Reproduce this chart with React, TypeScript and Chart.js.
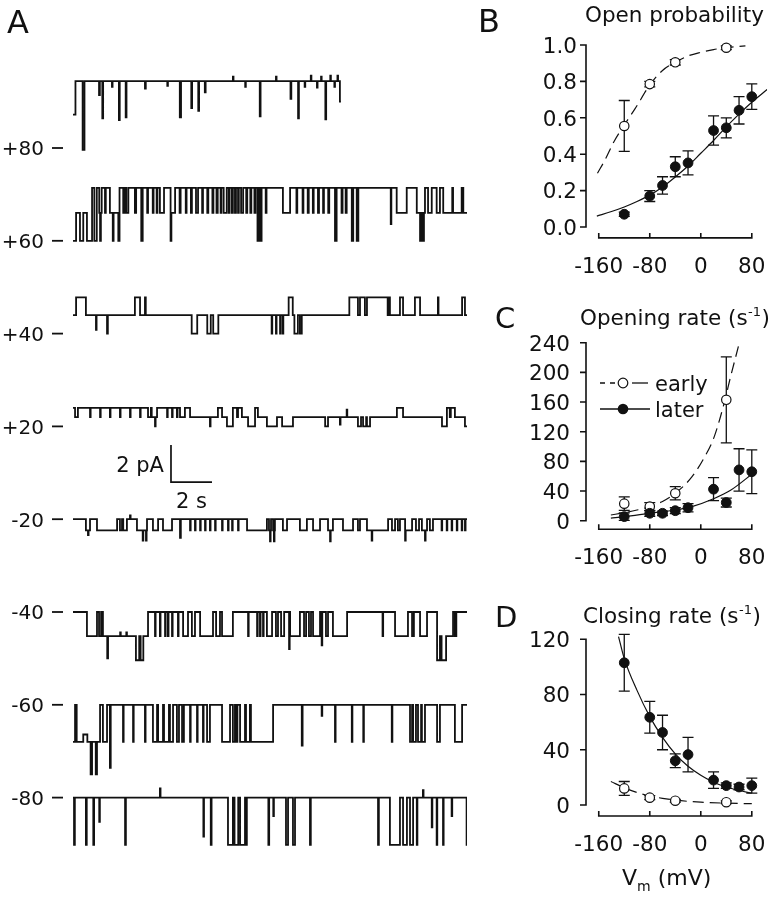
import React, { useEffect, useRef } from "react";
import { Chart, registerables } from "chart.js";

Chart.register(...registerables);

const FONT = '"DejaVu Sans", "Liberation Sans", Arial, sans-serif';
const INK = "#111111";

/* ---------------- Panel A : single-channel records ----------------
   Each record is a flat list of [time (s), current above closed level (pA)],
   the level holds until the next time. */
const voltageLabels = ["+80", "+60", "+40", "+20", "-20", "-40", "-60", "-80"];

const recPlus80 = [
  0, 1.8, 0.12, 3.6, 0.47, -0.1, 0.56, 3.6, 1.27, 2.85, 1.31, 3.6, 1.43, 1.6, 1.47, 3.6,
  1.9, 3.3, 1.93, 3.6, 2.24, 1.5, 2.28, 3.6, 2.57, 1.65, 2.61, 3.6, 3.51, 3.2, 3.55, 3.6,
  4.6, 3.35, 4.63, 3.6, 5.21, 1.65, 5.27, 3.6, 5.77, 2.15, 5.81, 3.6, 6.11, 2.0, 6.15, 3.6,
  6.43, 3.0, 6.47, 3.6, 7.8, 3.85, 7.83, 3.6, 8.4, 3.3, 8.43, 3.6, 9.11, 1.7, 9.15, 3.6,
  9.9, 3.85, 9.93, 3.6, 10.61, 2.65, 10.65, 3.6, 10.98, 1.6, 11.02, 3.6, 11.3, 3.3, 11.33, 3.6,
  11.6, 3.9, 11.63, 3.6, 11.9, 3.25, 11.93, 3.6, 12.1, 3.85, 12.13, 3.6, 12.31, 1.55, 12.35, 3.6,
  12.55, 3.9, 12.58, 3.6, 12.75, 3.3, 12.78, 3.6, 12.9, 3.9, 12.93, 3.6, 13.02, 2.5, 13.07, 2.5,
];
const recPlus60 = [
  0, 0, 0.15, 1.5, 0.34, 0, 0.5, 1.5, 0.68, 0, 0.93, 2.85, 1.04, 0, 1.16, 2.85, 1.28, 1.5,
  1.32, 0, 1.36, 1.5, 1.4, 2.85, 1.56, 1.5, 1.6, 2.85, 1.8, 1.5, 1.94, 0, 1.98, 1.5,
  2.21, 0, 2.27, 2.85, 2.45, 1.5, 2.52, 2.85, 2.6, 1.5, 2.7, 2.85, 3.02, 1.5, 3.08, 2.85,
  3.33, 0, 3.4, 2.85, 3.62, 1.5, 3.66, 2.85, 3.89, 1.5, 3.93, 2.85, 4.08, 1.5, 4.12, 2.85,
  4.24, 1.5, 4.44, 2.85, 4.76, 0, 4.8, 1.5, 4.98, 2.85, 5.2, 1.5, 5.25, 2.85, 5.5, 1.5, 5.54, 2.85,
  5.75, 1.5, 5.8, 2.85, 6.0, 1.5, 6.1, 2.85, 6.3, 1.5, 6.34, 2.85, 6.55, 1.5, 6.6, 2.85,
  6.8, 1.5, 6.85, 2.85, 7.0, 1.5, 7.06, 2.85, 7.2, 1.5, 7.24, 2.85, 7.35, 1.5, 7.5, 2.85,
  7.6, 1.5, 7.64, 2.85, 7.75, 1.5, 7.8, 2.85, 7.9, 1.5, 7.95, 2.85, 8.05, 1.5, 8.09, 2.85,
  8.2, 1.5, 8.3, 2.85, 8.45, 1.5, 8.5, 2.85, 8.65, 1.5, 8.7, 2.85, 8.85, 1.5, 8.9, 2.85,
  9.0, 0, 9.05, 2.85, 9.13, 0, 9.2, 2.85, 9.4, 1.5, 9.44, 2.85, 10.24, 1.5, 10.59, 2.85,
  10.9, 1.5, 10.94, 2.85, 11.2, 1.5, 11.24, 2.85, 11.45, 1.5, 11.5, 2.85, 11.7, 1.5, 11.74, 2.85,
  11.95, 1.5, 12.0, 2.85, 12.2, 1.5, 12.24, 2.85, 12.45, 1.5, 12.5, 2.85, 12.78, 0, 12.86, 2.85,
  13.1, 1.5, 13.15, 2.85, 13.3, 1.5, 13.35, 2.85, 13.6, 0, 13.67, 2.85, 13.84, 0, 13.92, 2.85,
  15.5, 0.9, 15.53, 2.85, 15.79, 1.5, 16.28, 2.85, 16.77, 1.5, 16.93, 0, 16.98, 1.5, 17.04, 0,
  17.12, 1.5, 17.17, 2.85, 17.32, 1.5, 17.5, 2.85, 17.74, 1.5, 17.9, 2.85, 18.06, 1.5,
  18.5, 2.85, 18.54, 1.5, 18.96, 2.85, 19.04, 1.5, 19.22, 1.5,
];
const recPlus40 = [
  0, 1.0, 0.15, 1.95, 0.63, 1.0, 1.12, 0.2, 1.15, 1.0, 1.66, 0, 1.7, 1.0, 3.02, 1.95, 3.27, 1.0,
  3.51, 1.95, 3.55, 1.0, 5.79, 0, 6.06, 1.0, 6.55, 0, 6.72, 1.0, 6.84, 0, 7.09, 1.0,
  9.69, 0, 9.72, 1.0, 9.9, 0, 9.93, 1.0, 10.1, 0, 10.13, 1.0, 10.23, 0, 10.26, 1.0,
  10.52, 1.95, 10.72, 1.0, 10.8, 0, 10.97, 1.0, 11.07, 0, 11.16, 1.0, 13.48, 1.95,
  13.9, 1.0, 14.0, 1.95, 14.24, 1.0, 14.34, 1.95, 15.35, 1.0, 15.4, 1.95, 15.46, 1.0,
  15.95, 1.95, 16.1, 1.0, 16.68, 1.95, 16.93, 1.0, 17.8, 1.95, 17.83, 1.0, 18.98, 1.95,
  19.12, 1.0, 19.22, 1.0,
];
const recPlus20 = [
  0, 1.0, 0.1, 0.5, 0.24, 1.0, 0.83, 0.5, 0.86, 1.0, 1.32, 0.5, 1.35, 1.0, 1.8, 0.5, 1.83, 1.0,
  2.29, 0.5, 2.32, 1.0, 2.78, 0.5, 2.81, 1.0, 3.27, 0.5, 3.3, 1.0, 3.66, 0.5, 3.8, 1.0, 3.84, 0.5,
  4.0, 0, 4.03, 0.5, 4.1, 1.0, 4.59, 0.5, 4.62, 1.0, 4.83, 0.5, 4.86, 1.0, 5.07, 0.5, 5.1, 1.0,
  5.22, 0.5, 5.46, 1.0, 5.71, 0.5, 6.68, 0, 6.71, 0.5, 7.07, 1.0, 7.27, 0.5, 7.51, 0, 7.8, 1.0,
  8.0, 0.5, 8.05, 1.0, 8.24, 0.5, 8.54, 0, 8.88, 1.0, 9.02, 0.5, 9.46, 0, 9.95, 0.5, 10.2, 0,
  10.73, 0.5, 12.3, 0, 12.44, 0.5, 13.02, 0.1, 13.05, 0.5, 13.35, 0.9, 13.38, 0.5,
  13.9, 0, 14.05, 0.5, 14.15, 0, 14.3, 0.5, 14.34, 0, 14.49, 0.5, 15.8, 1.0, 16.1, 0.5,
  18.0, 0, 18.24, 1.0, 18.38, 0.5, 18.43, 1.0, 18.63, 0.5, 19.12, 0, 19.22, 0,
];
const recMinus20 = [
  0, 0, 0.63, -0.6, 0.73, -0.85, 0.76, -0.6, 0.83, 0, 1.17, -0.6, 2.15, 0, 2.29, -0.6, 2.39, 0,
  2.45, -0.6, 2.63, 0, 2.78, 0.2, 2.81, 0, 3.12, -0.6, 3.4, -1.15, 3.43, -0.6, 3.56, -1.15,
  3.59, -0.6, 3.61, 0, 3.9, -0.6, 4.15, 0, 4.39, -0.6, 4.83, 0, 5.22, -1.0, 5.26, 0,
  5.71, -0.6, 5.74, 0, 5.95, -0.6, 5.98, 0, 6.2, -0.6, 6.23, 0, 6.44, -0.6, 6.47, 0,
  6.68, -0.6, 6.71, 0, 6.93, -0.6, 6.96, 0, 7.27, -0.6, 7.3, 0, 7.56, -0.6, 7.59, 0,
  7.76, -0.6, 7.79, 0, 8.05, -0.6, 8.08, 0, 8.49, -0.6, 9.46, 0, 9.56, -0.6, 9.61, -1.2,
  9.64, -0.6, 9.66, 0, 9.76, -0.6, 9.8, -1.2, 9.83, -0.6, 9.85, 0, 10.24, -0.6, 10.44, 0,
  11.07, -0.6, 11.41, 0, 11.71, -0.6, 12.05, 0, 12.44, -0.6, 12.54, -1.2, 12.57, -0.6,
  12.68, 0, 13.17, -0.6, 13.66, 0, 13.9, -0.6, 14.0, 0, 14.34, -0.6, 14.57, -1.15, 14.6, -0.6,
  15.37, 0, 15.56, -0.6, 15.71, 0, 15.85, -0.6, 15.95, 0, 16.2, -1.15, 16.23, -0.6, 16.54, 0,
  16.73, -0.6, 16.88, 0, 17.02, -0.6, 17.17, -1.15, 17.2, -0.6, 17.27, 0, 17.41, -0.6, 17.56, 0,
  17.98, -0.6, 18.01, 0, 18.23, -0.6, 18.26, 0, 18.47, -0.6, 18.5, 0, 18.72, -0.6, 18.75, 0,
  18.96, -0.6, 18.99, 0, 19.12, -0.6, 19.15, 0, 19.22, 0,
];
const recMinus40 = [
  0, 0, 0.68, -1.3, 1.17, 0, 1.27, -1.3, 1.37, 0, 1.46, -1.3, 1.67, -2.5, 1.71, -1.3,
  2.3, -1.1, 2.33, -1.3, 2.6, -1.1, 2.63, -1.3, 3.07, -2.6, 3.23, -1.3, 3.3, -2.6, 3.43, -1.3,
  3.66, 0, 4.0, -1.3, 4.03, 0, 4.24, -1.3, 4.27, 0, 4.49, -1.3, 4.52, 0, 4.63, -1.3, 4.66, 0,
  4.83, -1.3, 4.86, 0, 5.12, -1.3, 5.15, 0, 5.37, -1.3, 5.61, 0, 5.8, -1.3, 5.95, 0,
  6.2, -1.3, 6.83, 0, 6.98, -1.3, 7.17, 0, 7.27, -1.3, 7.8, 0, 8.54, -1.3, 8.57, 0,
  8.98, -1.3, 9.01, 0, 9.12, -1.3, 9.15, 0, 9.27, -1.3, 9.3, 0, 9.46, -1.3, 9.71, 0,
  9.9, -1.3, 10.0, 0, 10.15, -1.3, 10.3, 0, 10.54, -2.0, 10.57, 0, 10.59, -1.3, 11.07, 0,
  11.27, -1.3, 11.37, 0, 11.51, -1.3, 11.61, 0, 11.71, -1.3, 12.05, 0, 12.13, -1.8, 12.16, 0,
  12.34, -1.3, 12.44, 0, 12.68, -1.3, 13.37, 0, 15.1, -1.3, 15.13, 0, 15.71, -1.3, 16.34, 0,
  16.54, -1.3, 16.63, 0, 16.93, -1.3, 17.27, 0, 17.76, -2.6, 17.9, -1.3, 17.98, -2.6,
  18.2, -1.3, 18.54, 0, 18.63, -1.3, 18.7, 0, 19.22, 0,
];
const recMinus60 = [
  0, -2.0, 0.1, 0, 0.18, -2.0, 0.5, -1.6, 0.7, -2.0, 0.86, -3.75, 0.93, -2.0, 1.11, -3.75,
  1.17, -2.0, 1.32, 0, 1.46, -2.0, 1.66, 0, 1.8, -3.4, 1.84, 0, 2.44, -2.0, 2.47, 0,
  2.93, -2.0, 2.96, 0, 3.51, -2.0, 3.54, 0, 3.9, -2.0, 4.1, 0, 4.15, -2.0, 4.39, 0, 4.44, -2.0,
  4.68, 0, 4.73, -2.0, 4.88, 0, 5.07, -2.0, 5.17, 0, 5.32, -2.0, 5.41, 0, 5.71, -2.0, 5.74, 0,
  6.05, -2.0, 6.08, 0, 6.34, -2.0, 6.37, 0, 6.54, -2.0, 6.68, 0, 7.27, -2.0, 7.66, 0,
  7.8, -2.0, 7.9, 0, 7.98, -2.0, 8.02, 0, 8.15, -2.0, 8.39, 0, 8.44, -2.0, 8.63, 0, 8.68, -2.0,
  9.76, 0, 11.16, -2.2, 11.2, 0, 12.13, -0.6, 12.16, 0, 12.78, -2.0, 12.81, 0, 13.6, -2.0,
  13.63, 0, 14.16, -2.0, 14.19, 0, 15.55, -2.0, 15.58, 0, 16.44, -2.0, 16.54, 0, 16.59, -2.0,
  16.73, 0, 16.83, -2.0, 16.98, 0, 17.02, -2.0, 17.17, 0, 17.76, -2.0, 17.9, 0, 18.63, -2.0,
  18.98, 0, 19.22, 0,
];
const recMinus80 = [
  0, 0, 0.05, -2.55, 0.09, 0, 0.63, -2.55, 0.67, 0, 0.99, -2.55, 1.03, 0, 1.28, -1.3, 1.31, 0,
  2.54, -2.55, 2.58, 0, 4.24, 0.5, 4.27, 0, 6.36, -2.1, 6.39, 0, 6.72, -2.55, 6.76, 0,
  7.56, -2.55, 7.8, 0, 7.88, -2.55, 8.06, 0, 8.15, -2.55, 8.39, 0, 8.44, -2.55, 8.48, 0,
  9.53, -2.55, 9.57, 0, 9.77, -1.0, 9.8, 0, 10.39, -2.55, 10.49, 0, 10.73, -2.55, 10.83, 0,
  11.56, -2.55, 11.6, 0, 14.88, -2.55, 14.92, 0, 15.46, -2.55, 15.95, 0, 16.1, -2.55, 16.29, 0,
  16.44, -2.55, 16.59, 0, 16.77, -2.55, 16.8, 0, 17.07, 0.4, 17.1, 0, 17.5, -1.6, 17.53, 0,
  17.74, -2.55, 17.77, 0, 18.05, -2.55, 18.08, 0, 18.47, -1.0, 18.5, 0, 19.2, -2.55, 19.22, -2.55,
];
const records = [recPlus80, recPlus60, recPlus40, recPlus20, recMinus20, recMinus40, recMinus60, recMinus80];
const scaleBarCurrent = 2; // pA
const scaleBarTime = 2; // s

/* ---------------- Panels B-D : voltage dependence ---------------- */
const xTicksMv = [-160, -80, 0, 80];
const vEarly = [-120, -80, -40, 40];
const vLater = [-120, -80, -60, -40, -20, 20, 40, 60, 80];

// B: open probability
const poTicks = [0, 0.2, 0.4, 0.6, 0.8, 1.0];
const poEarly = [0.555, 0.785, 0.905, 0.985];
const poEarlySem = [0.14, 0.015, 0.015, 0.01];
const poLater = [0.07, 0.17, 0.228, 0.331, 0.352, 0.53, 0.545, 0.641, 0.716];
const poLaterSem = [0.012, 0.03, 0.048, 0.055, 0.066, 0.08, 0.055, 0.075, 0.07];
const poEarlyFitV = [-162, -150, -136, -120, -103, -80, -60, -40, -20, 0, 20, 40, 70];
const poEarlyFit = [0.295, 0.37, 0.47, 0.56, 0.65, 0.78, 0.86, 0.905, 0.94, 0.96, 0.975, 0.985, 0.995];
const poLaterFitV = [-163, -140, -120, -100, -80, -60, -40, -20, 0, 20, 40, 60, 80, 104];
const poLaterFit = [0.06, 0.085, 0.11, 0.14, 0.175, 0.22, 0.275, 0.335, 0.405, 0.475, 0.55, 0.62, 0.685, 0.755];

// C: opening rate (s^-1)
const koTicks = [0, 40, 80, 120, 160, 200, 240];
const koEarly = [23, 19, 37, 163];
const koEarlySem = [9, 5.5, 9, 58];
const koLater = [5.5, 10, 10, 13.5, 17.5, 42.5, 24.5, 68.5, 66];
const koLaterSem = [5, 4, 3, 4, 5.5, 15.5, 6, 28.5, 29.5];
const koEarlyFitV = [-141, -120, -100, -80, -60, -40, -14, 6, 21, 36.5, 46.7, 59];
const koEarlyFit = [7.7, 10.8, 14.4, 19, 26, 37, 59, 86, 113, 158, 194, 235];
const koLaterFitV = [-141, -120, -80, -40, -14, 21, 46.7, 82];
const koLaterFit = [3.5, 5.4, 10, 14.4, 19, 30, 41, 64];

// D: closing rate (s^-1)
const kcTicks = [0, 40, 80, 120];
const kcEarly = [12, 5.3, 3.1, 2];
const kcEarlySem = [5, 1.5, 1, 1];
const kcLater = [103, 63.5, 52.5, 32, 36.5, 18, 14, 13, 14];
const kcLaterSem = [20.5, 11.5, 12.5, 5, 12.5, 6, 2, 2, 5.5];
const kcEarlyFitV = [-141, -120, -100, -80, -60, -40, -20, 0, 40, 80];
const kcEarlyFit = [17, 12.5, 9, 6.5, 4.8, 3.5, 2.6, 2, 1.3, 0.9];
const kcLaterFitV = [-129, -120, -100, -80, -60, -40, -20, 0, 20, 40, 60, 80];
const kcLaterFit = [122, 106, 83, 64, 49, 37, 28, 21.5, 16.5, 13, 10.5, 8.5];

/* ---------------- helpers ---------------- */
const pts = (xs: number[], ys: number[]) => xs.map((x, i) => ({ x, y: ys[i] }));
const stepPts = (flat: number[], offset: number) => {
  const out: { x: number; y: number }[] = [];
  for (let i = 0; i < flat.length; i += 2) out.push({ x: flat[i], y: offset + flat[i + 1] });
  return out;
};

function txt(ctx: any, s: string, x: number, y: number, size: number, align: string = "left") {
  ctx.font = `${size}px ${FONT}`;
  ctx.textAlign = align;
  ctx.textBaseline = "alphabetic";
  ctx.fillStyle = INK;
  ctx.fillText(s, x, y);
}

function titleWithSup(ctx: any, before: string, sup: string, after: string, x: number, y: number, size: number) {
  ctx.textBaseline = "alphabetic";
  ctx.textAlign = "left";
  ctx.fillStyle = INK;
  ctx.font = `${size}px ${FONT}`;
  ctx.fillText(before, x, y);
  let w = ctx.measureText(before).width;
  if (sup) {
    ctx.font = `${Math.round(size * 0.6)}px ${FONT}`;
    ctx.fillText(sup, x + w + 0.5, y - size * 0.4);
    w += ctx.measureText(sup).width + 1;
  }
  ctx.font = `${size}px ${FONT}`;
  ctx.fillText(after, x + w, y);
}

/* ---------------- Panel A config ---------------- */
const TRACE_GAP = 5; // pA between record baselines
const SB_T = 4.78;
const SB_Y = -18;

function makeConfigA(): any {
  const datasets: any[] = records.map((rec, i) => ({
    label: voltageLabels[i],
    data: stepPts(rec, -TRACE_GAP * i),
    stepped: "before",
    borderColor: INK,
    borderWidth: 1.8,
    pointRadius: 0,
    fill: false,
  }));
  datasets.push({
    label: "scale bar",
    data: [
      { x: SB_T, y: SB_Y + scaleBarCurrent },
      { x: SB_T, y: SB_Y },
      { x: SB_T + scaleBarTime, y: SB_Y },
    ],
    borderColor: INK,
    borderWidth: 1.7,
    pointRadius: 0,
    fill: false,
  });
  const decor = {
    id: "decorA",
    afterDraw(chart: any) {
      const { ctx } = chart;
      const x = chart.scales.x;
      const y = chart.scales.y;
      ctx.save();
      voltageLabels.forEach((lab, i) => {
        const py = y.getPixelForValue(-TRACE_GAP * i);
        txt(ctx, lab, 44, py + 0.365 * 20, 20, "right");
        ctx.strokeStyle = INK;
        ctx.lineWidth = 1.8;
        ctx.beginPath();
        ctx.moveTo(52, py);
        ctx.lineTo(63, py);
        ctx.stroke();
      });
      txt(ctx, "A", 7, 33, 32, "left");
      const sx = x.getPixelForValue(SB_T);
      const sy = y.getPixelForValue(SB_Y);
      txt(ctx, `${scaleBarCurrent} pA`, sx - 7, sy - 10, 21, "right");
      txt(ctx, `${scaleBarTime} s`, x.getPixelForValue(SB_T + scaleBarTime / 2), sy + 26, 21, "center");
      ctx.restore();
    },
  };
  return {
    type: "line",
    data: { datasets },
    options: {
      animation: false,
      responsive: false,
      devicePixelRatio: 1,
      events: [],
      layout: { padding: { left: 73, right: 3, top: 55.2, bottom: 8.6 } },
      scales: {
        x: { type: "linear", min: 0, max: 19.22, display: false },
        y: { type: "linear", min: -40, max: 5, display: false },
      },
      plugins: { legend: { display: false }, tooltip: { enabled: false }, title: { display: false } },
    },
    plugins: [decor],
  };
}

/* ---------------- Panels B-D config ---------------- */
function makePanelConfig(spec: any): any {
  const CAP = 5.5;
  const decor = {
    id: "decor" + spec.letter,
    beforeDatasetsDraw(chart: any) {
      const { ctx } = chart;
      const x = chart.scales.x;
      const y = chart.scales.y;
      ctx.save();
      ctx.strokeStyle = INK;
      ctx.lineWidth = 1.3;
      const groups = [
        [spec.laterV, spec.laterY, spec.laterSem],
        [spec.earlyV, spec.earlyY, spec.earlySem],
      ];
      for (const [vs, ys, es] of groups) {
        vs.forEach((v: number, i: number) => {
          const px = x.getPixelForValue(v);
          const top = y.getPixelForValue(ys[i] + es[i]);
          const bot = y.getPixelForValue(ys[i] - es[i]);
          ctx.beginPath();
          ctx.moveTo(px, top);
          ctx.lineTo(px, bot);
          ctx.moveTo(px - CAP, top);
          ctx.lineTo(px + CAP, top);
          ctx.moveTo(px - CAP, bot);
          ctx.lineTo(px + CAP, bot);
          ctx.stroke();
        });
      }
      ctx.restore();
    },
    afterDraw(chart: any) {
      const { ctx, chartArea } = chart;
      const x = chart.scales.x;
      const y = chart.scales.y;
      ctx.save();
      ctx.strokeStyle = INK;
      ctx.lineWidth = 1.6;
      // y axis
      const ax = chartArea.left;
      const ticks: number[] = spec.yTicks;
      ctx.beginPath();
      ctx.moveTo(ax, y.getPixelForValue(ticks[0]) + 0.8);
      ctx.lineTo(ax, y.getPixelForValue(ticks[ticks.length - 1]) - 0.8);
      ticks.forEach((t) => {
        const py = y.getPixelForValue(t);
        ctx.moveTo(ax - 6, py);
        ctx.lineTo(ax, py);
      });
      ctx.stroke();
      ticks.forEach((t) => {
        const py = y.getPixelForValue(t);
        txt(ctx, spec.yFmt(t), spec.yLabelRight, py + 0.365 * 21.5, 21.5, "right");
      });
      // x axis
      const ay = chartArea.bottom;
      ctx.beginPath();
      ctx.moveTo(x.getPixelForValue(xTicksMv[0]) - 0.8, ay);
      ctx.lineTo(x.getPixelForValue(xTicksMv[xTicksMv.length - 1]) + 0.8, ay);
      xTicksMv.forEach((t) => {
        const px = x.getPixelForValue(t);
        ctx.moveTo(px, ay);
        ctx.lineTo(px, ay - 5);
      });
      ctx.stroke();
      xTicksMv.forEach((t) => {
        txt(ctx, String(t), x.getPixelForValue(t), ay + 27 + 0.365 * 21.5, 21.5, "center");
      });
      // letter and title
      txt(ctx, spec.letter, spec.letterX, spec.letterY, spec.letterSize, "left");
      titleWithSup(ctx, spec.title[0], spec.title[1], spec.title[2], spec.titleX, spec.titleY, 21.5);
      // legend
      if (spec.legend) {
        const lx = spec.legend;
        ctx.lineWidth = 1.3;
        ctx.setLineDash([5, 5]);
        ctx.beginPath();
        ctx.moveTo(lx.x0, lx.y1);
        ctx.lineTo(lx.x0 + 17, lx.y1);
        ctx.stroke();
        ctx.setLineDash([]);
        ctx.beginPath();
        ctx.moveTo(lx.x0 + 32, lx.y1);
        ctx.lineTo(lx.x0 + 48, lx.y1);
        ctx.stroke();
        ctx.beginPath();
        ctx.arc(lx.x0 + 23, lx.y1, 4.8, 0, Math.PI * 2);
        ctx.fillStyle = "#fff";
        ctx.fill();
        ctx.lineWidth = 1.2;
        ctx.stroke();
        txt(ctx, "early", lx.x0 + 55, lx.y1 + 7.5, 21, "left");
        ctx.lineWidth = 1.3;
        ctx.beginPath();
        ctx.moveTo(lx.x0, lx.y2);
        ctx.lineTo(lx.x0 + 50, lx.y2);
        ctx.stroke();
        ctx.beginPath();
        ctx.arc(lx.x0 + 23, lx.y2, 5.3, 0, Math.PI * 2);
        ctx.fillStyle = INK;
        ctx.fill();
        txt(ctx, "later", lx.x0 + 55, lx.y2 + 7.5, 21, "left");
      }
      if (spec.xTitle) {
        const t = spec.xTitle;
        ctx.fillStyle = INK;
        ctx.textAlign = "left";
        ctx.textBaseline = "alphabetic";
        ctx.font = `22px ${FONT}`;
        ctx.fillText("V", t.x, t.y);
        let w = ctx.measureText("V").width;
        ctx.font = `14px ${FONT}`;
        ctx.fillText("m", t.x + w, t.y + 6);
        w += ctx.measureText("m").width;
        ctx.font = `22px ${FONT}`;
        ctx.fillText(" (mV)", t.x + w, t.y);
      }
      ctx.restore();
    },
  };
  return {
    type: "scatter",
    data: {
      datasets: [
        {
          label: "later",
          data: pts(spec.laterV, spec.laterY),
          pointRadius: 4.9,
          pointBackgroundColor: INK,
          pointBorderColor: INK,
          pointBorderWidth: 1,
          showLine: false,
        },
        {
          label: "early",
          data: pts(spec.earlyV, spec.earlyY),
          pointRadius: 4.7,
          pointBackgroundColor: "#ffffff",
          pointBorderColor: INK,
          pointBorderWidth: 1.2,
          showLine: false,
        },
        {
          type: "line",
          label: "later fit",
          data: pts(spec.laterFitV, spec.laterFit),
          borderColor: INK,
          borderWidth: 1.2,
          pointRadius: 0,
          fill: false,
          cubicInterpolationMode: "monotone",
        },
        {
          type: "line",
          label: "early fit",
          data: pts(spec.earlyFitV, spec.earlyFit),
          borderColor: INK,
          borderWidth: 1.2,
          borderDash: [11, 6],
          pointRadius: 0,
          fill: false,
          cubicInterpolationMode: "monotone",
        },
      ],
    },
    options: {
      animation: false,
      responsive: false,
      devicePixelRatio: 1,
      events: [],
      layout: { padding: spec.padding },
      scales: {
        x: { type: "linear", min: -180, max: 104, display: false },
        y: { type: "linear", min: spec.yMin, max: spec.yMax, display: false },
      },
      plugins: { legend: { display: false }, tooltip: { enabled: false }, title: { display: false } },
    },
    plugins: [decor],
  };
}

const specB = {
  letter: "B", letterX: 8, letterY: 32, letterSize: 32,
  title: ["Open probability", "", ""], titleX: 115, titleY: 21.5,
  yTicks: poTicks, yFmt: (v: number) => v.toFixed(1), yLabelRight: 107,
  yMin: -0.06, yMax: 1.1,
  padding: { left: 116, right: 0, top: 26.8, bottom: 52.1 },
  earlyV: vEarly, earlyY: poEarly, earlySem: poEarlySem,
  laterV: vLater, laterY: poLater, laterSem: poLaterSem,
  earlyFitV: poEarlyFitV, earlyFit: poEarlyFit, laterFitV: poLaterFitV, laterFit: poLaterFit,
};
const specC = {
  letter: "C", letterX: 25, letterY: 28, letterSize: 29,
  title: ["Opening rate (s", "-1", ")"], titleX: 110, titleY: 25,
  yTicks: koTicks, yFmt: (v: number) => String(v), yLabelRight: 100,
  yMin: -11.6, yMax: 250,
  padding: { left: 116, right: 0, top: 35.3, bottom: 40.7 },
  earlyV: vEarly, earlyY: koEarly, earlySem: koEarlySem,
  laterV: vLater, laterY: koLater, laterSem: koLaterSem,
  earlyFitV: koEarlyFitV, earlyFit: koEarlyFit, laterFitV: koLaterFitV, laterFit: koLaterFit,
  legend: { x0: 130, y1: 83, y2: 109 },
};
const specD = {
  letter: "D", letterX: 25, letterY: 57, letterSize: 29,
  title: ["Closing rate (s", "-1", ")"], titleX: 113, titleY: 53,
  yTicks: kcTicks, yFmt: (v: number) => String(v), yLabelRight: 100,
  yMin: -8, yMax: 130,
  padding: { left: 116, right: 0, top: 55.5, bottom: 83 },
  earlyV: vEarly, earlyY: kcEarly, earlySem: kcEarlySem,
  laterV: vLater, laterY: kcLater, laterSem: kcLaterSem,
  earlyFitV: kcEarlyFitV, earlyFit: kcEarlyFit, laterFitV: kcLaterFitV, laterFit: kcLaterFit,
  xTitle: { x: 152, y: 315 },
};

function ChartCanvas(props: { make: () => any; left: number; top: number; width: number; height: number }) {
  const ref = useRef<HTMLCanvasElement | null>(null);
  useEffect(() => {
    if (!ref.current) return;
    const chart = new Chart(ref.current, props.make());
    return () => chart.destroy();
  }, []);
  return (
    <canvas
      ref={ref}
      width={props.width}
      height={props.height}
      style={{ position: "absolute", left: props.left, top: props.top, width: props.width, height: props.height, display: "block" }}
    />
  );
}

export default function App() {
  return (
    <div style={{ position: "absolute", left: 0, top: 0, width: 773, height: 899, background: "#ffffff", overflow: "hidden" }}>
      <ChartCanvas make={makeConfigA} left={0} top={0} width={470} height={899} />
      <ChartCanvas make={() => makePanelConfig(specB)} left={470} top={0} width={303} height={290} />
      <ChartCanvas make={() => makePanelConfig(specC)} left={470} top={300} width={303} height={270} />
      <ChartCanvas make={() => makePanelConfig(specD)} left={470} top={570} width={303} height={329} />
    </div>
  );
}
